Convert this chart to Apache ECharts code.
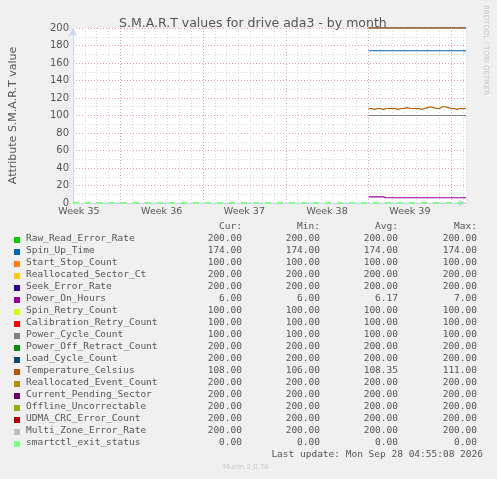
<!DOCTYPE html>
<html><head><meta charset="utf-8">
<script src="https://cdn.jsdelivr.net/npm/echarts@6/dist/echarts.min.js"></script>
<style>html,body{margin:0;background:#f0f0f0}#app{width:497px;height:479px}</style>
</head><body><div id="app"></div>
<script>
// x in days, 0 = start of Week 36
const weekLabels = ['Week 35', 'Week 36', 'Week 37', 'Week 38', 'Week 39'];
const weekCenters = [-3.5, 3.5, 10.5, 17.5, 24.5];
const names = ['Raw_Read_Error_Rate','Spin_Up_Time','Start_Stop_Count','Reallocated_Sector_Ct','Seek_Error_Rate','Power_On_Hours','Spin_Retry_Count','Calibration_Retry_Count','Power_Cycle_Count','Power_Off_Retract_Count','Load_Cycle_Count','Temperature_Celsius','Reallocated_Event_Count','Current_Pending_Sector','Offline_Uncorrectable','UDMA_CRC_Error_Count','Multi_Zone_Error_Rate','smartctl_exit_status'];
const colors = ['#00cc00','#0066b3','#ff8000','#ffcc00','#330099','#990099','#ccff00','#ff0000','#808080','#008f00','#00487d','#b35a00','#b38f00','#6b006b','#8fb300','#b30000','#bebebe','#80ff80'];
const cur = [200,174,100,200,200,6,100,100,100,200,200,108,200,200,200,200,200,0];
const mins = [200,174,100,200,200,6,100,100,100,200,200,106,200,200,200,200,200,0];
const avgs = [200,174,100,200,200,6.17,100,100,100,200,200,108.35,200,200,200,200,200,0];
const maxs = [200,174,100,200,200,7,100,100,100,200,200,111,200,200,200,200,200,0];
const times = [21,21.25,21.5,21.75,22,22.25,22.5,22.75,23,23.25,23.5,23.75,24,24.25,24.5,24.75,25,25.25,25.5,25.75,26,26.25,26.5,26.75,27,27.25,27.5,27.75,28,28.25,28.5,28.75,29,29.25];
const temperature = [108,107,108,108,107,108,108,108,108,107,108,108,109,108,108,108,108,107,108,109,110,109,108,108,110,110,109,108,108,107,108,108,108,108];
const powerOn = [7,7,7,7,7,6,6,6,6,6,6,6,6,6,6,6,6,6,6,6,6,6,6,6,6,6,6,6,6,6,6,6,6,6];
const exitStatusX = [-4, 29.25];

const chart = echarts.init(document.getElementById('app'));
const series = names.map((n, i) => {
  let data;
  if (n === 'Temperature_Celsius') data = times.map((t, k) => [t, temperature[k]]);
  else if (n === 'Power_On_Hours') data = times.map((t, k) => [t, powerOn[k]]);
  else if (n === 'smartctl_exit_status') data = exitStatusX.map(t => [t, cur[i]]);
  else data = times.map(t => [t, cur[i]]);
  const dashed = n === 'smartctl_exit_status';
  return {
    name: n, type: 'line', step: 'end', showSymbol: false, animation: false, data,
    lineStyle: {width: dashed ? 2 : 1.2, color: colors[i], type: dashed ? [6, 6] : 'solid'},
    z: 3
  };
});
series[0].markLine = {
  silent: true, symbol: 'none', label: {show: false}, animation: false,
  lineStyle: {color: '#e8a0a0', type: [1, 2], width: 1},
  data: [0, 7, 14, 21, 28].map(v => ({xAxis: v}))
};

const mono = 'DejaVu Sans Mono';
const gfx = [];
const cols = [242, 320, 398, 477];
['Cur:', 'Min:', 'Avg:', 'Max:'].forEach((h, j) => gfx.push({type: 'text', x: cols[j], y: 222, style: {text: h, font: '9.5px ' + mono, fill: '#555', align: 'right'}}));
names.forEach((n, i) => {
  const y = 234 + i * 12;
  gfx.push({type: 'rect', shape: {x: 14, y: y + 3, width: 6, height: 6}, style: {fill: colors[i]}});
  gfx.push({type: 'text', left: 26, top: y, style: {text: n, font: '9.5px ' + mono, fill: '#555'}});
  [cur[i], mins[i], avgs[i], maxs[i]].forEach((v, j) => gfx.push({type: 'text', x: cols[j], y: y, style: {text: v.toFixed(2), font: '9.5px ' + mono, fill: '#555', align: 'right'}}));
});
gfx.push({type: 'text', x: 483, y: 450, style: {text: 'Last update: Mon Sep 28 04:55:08 2026', font: '9.5px ' + mono, fill: '#555', align: 'right'}});
gfx.push({type: 'text', x: 223, y: 464, style: {text: 'Munin 2.0.76', font: '7px DejaVu Sans', fill: '#c8c8c8'}});
gfx.push({type: 'text', x: 489, y: 5, rotation: -Math.PI / 2, style: {text: 'RRDTOOL / TOBI OETIKER', font: '7px DejaVu Sans', fill: '#c8c8c8'}});

chart.setOption({
  backgroundColor: '#f0f0f0',
  title: {text: 'S.M.A.R.T values for drive ada3 - by month', left: 114, top: 12, textStyle: {fontFamily: 'DejaVu Sans', fontSize: 12.5, fontWeight: 'normal', color: '#555'}},
  grid: {left: 67, right: 31, top: 28, bottom: 276, backgroundColor: '#fff', show: true, borderWidth: 0},
  xAxis: {
    type: 'value', min: -4, max: 29.25, interval: 1,
    axisLine: {onZero: false, lineStyle: {color: '#c8d0ff'}, symbol: ['none', 'arrow'], symbolSize: [6, 8]},
    axisTick: {show: false},
    axisLabel: {customValues: weekCenters, formatter: v => weekLabels[weekCenters.indexOf(v)], color: '#555', fontFamily: 'DejaVu Sans', fontSize: 9.5, margin: 4},
    splitLine: {show: true, lineStyle: {color: '#d8d8d8', type: [1, 2]}}
  },
  yAxis: {
    type: 'value', min: 0, max: 200, interval: 20,
    name: 'Attribute S.M.A.R.T value', nameLocation: 'middle', nameGap: 54,
    nameTextStyle: {color: '#555', fontFamily: 'DejaVu Sans', fontSize: 11},
    axisLine: {show: true, onZero: false, lineStyle: {color: '#c8d0ff'}, symbol: ['none', 'arrow'], symbolSize: [6, 8]},
    axisTick: {show: false},
    axisLabel: {color: '#555', fontFamily: 'DejaVu Sans', fontSize: 10, margin: 4},
    splitLine: {lineStyle: {color: '#e8a0a0', type: [1, 2]}},
    minorTick: {show: false, splitNumber: 2},
    minorSplitLine: {show: true, lineStyle: {color: '#d8d8d8', type: [1, 2]}}
  },
  series,
  graphic: gfx
});
</script></body></html>
